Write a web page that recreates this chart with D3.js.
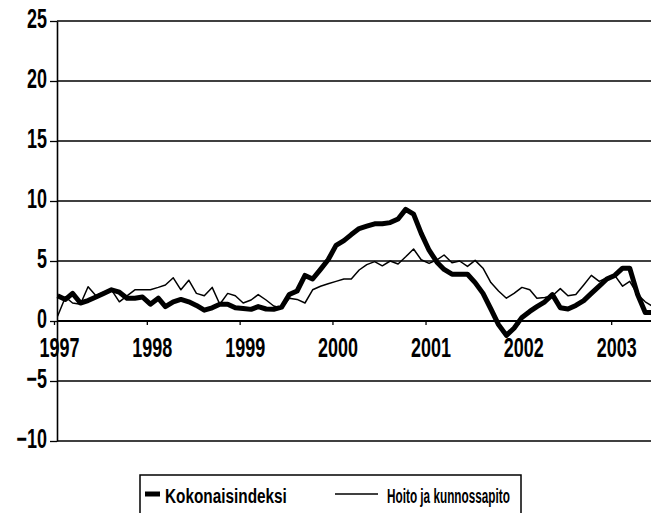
<!DOCTYPE html>
<html>
<head>
<meta charset="utf-8">
<script src="https://cdn.jsdelivr.net/npm/d3@7"></script>
<style>
  body { margin: 0; background: #fff; }
  text { font-family: "Liberation Sans", Arial, sans-serif; font-weight: bold; fill: #000; }
</style>
</head>
<body>
<script>
// monthly values, Jan 1997 .. Jun 2003
const startYear = 1997;
const kokonaisindeksi = [
  2.1, 1.8, 2.3, 1.5, 1.7, 2.0, 2.3, 2.6, 2.4, 1.9, 1.9, 2.0,
  1.4, 1.9, 1.2, 1.6, 1.8, 1.6, 1.3, 0.9, 1.1, 1.4, 1.4, 1.1,
  1.05, 0.97, 1.2, 1.0, 0.97, 1.15, 2.2, 2.5, 3.8, 3.5, 4.3, 5.1,
  6.3, 6.7, 7.2, 7.7, 7.9, 8.1, 8.1, 8.2, 8.5, 9.3, 8.9, 7.3,
  5.9, 4.9, 4.3, 3.9, 3.9, 3.9, 3.2, 2.3, 1.0, -0.3, -1.2, -0.6,
  0.3, 0.8, 1.2, 1.6, 2.2, 1.1, 1.0, 1.3, 1.7, 2.3, 2.9, 3.5,
  3.8, 4.4, 4.4, 2.2, 0.7, 0.7
];
const hoito = [
  0.4, 2.0, 1.5, 1.4, 2.85, 2.1, 2.4, 2.6, 1.6, 2.1, 2.6, 2.6,
  2.6, 2.8, 3.0, 3.6, 2.6, 3.4, 2.3, 2.1, 2.8, 1.4, 2.3, 2.1,
  1.5, 1.75, 2.2, 1.75, 1.25, 1.06, 1.9, 1.8, 1.5, 2.6, 2.9, 3.1,
  3.3, 3.5, 3.5, 4.25, 4.7, 4.95, 4.6, 5.0, 4.75, 5.35, 6.0, 5.1,
  4.8, 5.1, 5.5, 4.86, 5.0, 4.55, 5.05, 4.4, 3.2, 2.5, 1.9, 2.3,
  2.8, 2.6, 1.9, 1.95, 2.1, 2.7, 2.1, 2.2, 3.0, 3.8, 3.3, 3.6,
  3.8, 2.9, 3.3, 2.2, 1.6, 1.2
];
const yTicks = [-10, -5, 0, 5, 10, 15, 20, 25];
const seriesNames = ["Kokonaisindeksi", "Hoito ja kunnossapito"];

const w = 651, h = 513;
const plotLeft = 57, plotRight = 651, plotTop = 21, plotBottom = 441;

const svg = d3.select("body").append("svg")
  .attr("width", w).attr("height", h);

// the original face is a narrow grotesque, so squeeze the installed one to fit
function squeezeFor(sample, size, target) {
  const t = svg.append("text").style("font-size", size + "px").text(sample);
  const len = t.node().getComputedTextLength();
  t.remove();
  return target / len;
}
const axisSize = 27;
const axisSx = squeezeFor("0000", axisSize, 40);
const legendSize = 21;
const legendSx1 = squeezeFor(seriesNames[0], legendSize, 122);
const legendSx2 = squeezeFor(seriesNames[1], legendSize, 123);

const x = d3.scaleTime()
  .domain([new Date(1997, 0, 1), new Date(2003, 6, 1)])
  .range([54, 657.2]);
const y = d3.scaleLinear().domain([-10, 25]).range([plotBottom, plotTop]);

const dateOf = (i) => new Date(startYear, i, 15);

// grid lines
svg.append("g").selectAll("line")
  .data(yTicks.filter(d => d !== 0))
  .enter().append("line")
  .attr("x1", plotLeft).attr("x2", plotRight)
  .attr("y1", d => y(d)).attr("y2", d => y(d))
  .attr("stroke", "#000").attr("stroke-width", 1.3);

// y axis
const yAxis = svg.append("g")
  .attr("transform", "translate(" + plotLeft + ",0)")
  .call(d3.axisLeft(y).tickValues(yTicks).tickSize(7).tickSizeOuter(0));
yAxis.select(".domain").attr("stroke-width", 1.6);
yAxis.selectAll(".tick line").attr("stroke-width", 1.3);
yAxis.selectAll("text")
  .attr("x", 0).attr("dy", "0.3em")
  .style("font-size", axisSize + "px")
  .attr("transform", "translate(-10,-2) scale(" + axisSx + ",1)");

// x axis at zero
const xAxis = svg.append("g")
  .attr("transform", "translate(0," + y(0) + ")")
  .call(d3.axisBottom(x).ticks(d3.timeYear.every(1)).tickFormat(d3.timeFormat("%Y")).tickSize(4).tickSizeOuter(0));
xAxis.select(".domain").attr("d", "M" + plotLeft + ",0H" + plotRight).attr("stroke-width", 2.2);
xAxis.selectAll(".tick line").attr("stroke-width", 1.3);
xAxis.selectAll("text")
  .attr("y", 0).attr("dy", null)
  .style("font-size", axisSize + "px")
  .attr("transform", "translate(5,36) scale(" + axisSx + ",1)");

// lines
const line = d3.line()
  .x((d, i) => x(dateOf(i)))
  .y(d => y(d));

svg.append("path")
  .datum(hoito)
  .attr("fill", "none").attr("stroke", "#000")
  .attr("stroke-width", 1.5).attr("stroke-linejoin", "round")
  .attr("d", line);

svg.append("path")
  .datum(kokonaisindeksi)
  .attr("fill", "none").attr("stroke", "#000")
  .attr("stroke-width", 5).attr("stroke-linejoin", "round")
  .attr("d", line);

// legend
const legend = svg.append("g").attr("transform", "translate(140,475)");
legend.append("rect")
  .attr("x", 0).attr("y", 0).attr("width", 381).attr("height", 60)
  .attr("fill", "none").attr("stroke", "#000").attr("stroke-width", 1.5);
legend.append("line")
  .attr("x1", 5).attr("x2", 20).attr("y1", 19).attr("y2", 19)
  .attr("stroke", "#000").attr("stroke-width", 5);
legend.append("text")
  .attr("transform", "translate(25,28) scale(" + legendSx1 + ",1)")
  .style("font-size", legendSize + "px").text(seriesNames[0]);
legend.append("line")
  .attr("x1", 195).attr("x2", 238).attr("y1", 19).attr("y2", 19)
  .attr("stroke", "#000").attr("stroke-width", 1.5);
legend.append("text")
  .attr("transform", "translate(247,28) scale(" + legendSx2 + ",1)")
  .style("font-size", legendSize + "px").text(seriesNames[1]);
</script>
</body>
</html>
